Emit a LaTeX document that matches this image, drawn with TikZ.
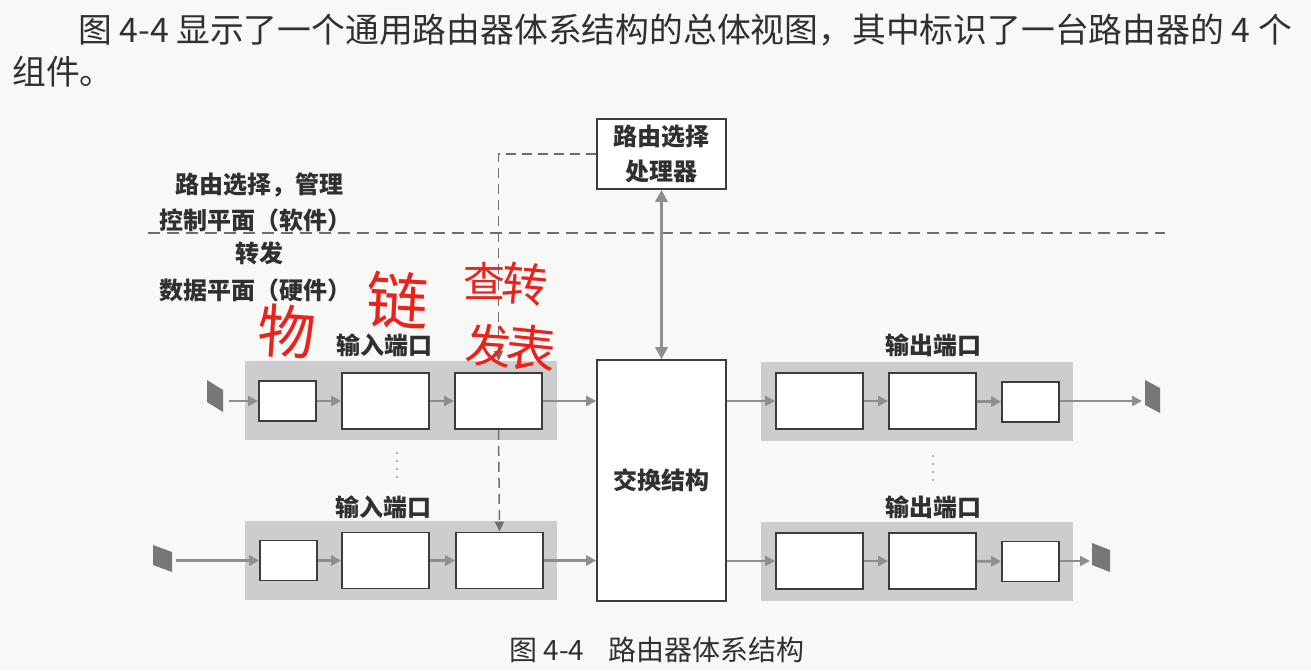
\documentclass[tikz,border=0pt]{standalone}
\usepackage{fontspec}
\setmainfont{Noto Sans CJK SC}
\usetikzlibrary{arrows.meta}
\definecolor{pagebg}{HTML}{F8F8F6}
\definecolor{ink}{HTML}{303030}
\definecolor{boxline}{HTML}{3C3C3C}
\definecolor{portgray}{HTML}{CDCDCD}
\definecolor{arrowgray}{HTML}{8E8E8E}
\definecolor{dashgray}{HTML}{6E6E6E}
\definecolor{plategray}{HTML}{777777}
\definecolor{handred}{HTML}{E8231C}
\begin{document}
\begin{tikzpicture}[x=1pt,y=-1pt,
  port/.style={fill=portgray,draw=none,inner sep=0pt,minimum width=312pt,minimum height=79pt},
  stagebig/.style={draw=boxline,fill=white,line width=1.8pt,inner sep=0pt,minimum width=87pt,minimum height=56pt},
  stagesmall/.style={draw=boxline,fill=white,line width=1.8pt,inner sep=0pt,minimum width=57pt,minimum height=40pt},
  bigbox/.style={draw=boxline,fill=white,line width=1.6pt,inner sep=0pt,minimum width=129pt,align=center,text=ink,font=\bfseries\fontsize{24}{35}\selectfont},
  flow/.style={draw=arrowgray,line width=2.8pt,-{Triangle[length=10pt,width=10pt]}},
  twoway/.style={draw=arrowgray,line width=3.4pt,{Triangle[length=12pt,width=12pt]}-{Triangle[length=12pt,width=12pt]}},
  ctrl/.style={draw=dashgray,line width=1.5pt,dash pattern=on 10pt off 6pt,-{Triangle[length=10pt,width=9pt]}},
  planeline/.style={draw=dashgray,line width=1.5pt,dash pattern=on 12pt off 7pt},
  lbl/.style={text=ink,inner sep=0pt,font=\bfseries\fontsize{24}{28}\selectfont},
  bodytext/.style={text=ink,inner sep=0pt,anchor=west,font=\fontsize{33.8}{40}\selectfont},
  captiontext/.style={text=ink,inner sep=0pt,anchor=west,font=\fontsize{28}{32}\selectfont},
  hand/.style={text=handred,inner sep=0pt,font=\fontsize{48}{50}\selectfont},
  plate/.style={fill=plategray,draw=none},
  dots/.style={draw=arrowgray!70,line width=1.6pt,dash pattern=on 2pt off 6pt}
]
\useasboundingbox (0,0) rectangle (1311,670);
\fill[pagebg] (0,0) rectangle (1311,670);

% running text
\node[bodytext] (t1) at (78,30) {图 4-4 显示了一个通用路由器体系结构的总体视图，其中标识了一台路由器的 4 个};
\node[bodytext] (t2) at (12,72) {组件。};
\node[captiontext] (cap) at (509,650) {图 4-4\hspace{24pt}路由器体系结构};

% control / data plane
\coordinate (pl) at (148,233);
\coordinate (pr) at (1165,233);
\draw[planeline] (pl) -- (pr);
\node[lbl] (c1) at (259,185) {路由选择，管理};
\node[lbl] (c2) at (255,220) {控制平面（软件）};
\node[lbl] (d1) at (259,253) {转发};
\node[lbl] (d2) at (255,290) {数据平面（硬件）};

% routing processor and switch fabric
\node[bigbox,minimum height=70pt] (rp) at (661.5,154) {路由选择\\处理器};
\node[bigbox,minimum height=241pt] (sw) at (661.5,480.5) {\raisebox{-10pt}{交换结构}};

% dashed control path (under first input port)
\draw[ctrl] (rp.west) -| (498.5,361);

% ports
\node[port] (in1) at (401,400.5) {};
\node[port] (in2) at (401,560.5) {};
\node[port] (out1) at (917,401.5) {};
\node[port] (out2) at (917,561.5) {};

\node[lbl] (in1l) at (384,345) {输入端口};
\node[lbl] (in2l) at (383,507) {输入端口};
\node[lbl] (out1l) at (933,345) {输出端口};
\node[lbl] (out2l) at (933,507) {输出端口};

% stages
\node[stagesmall] (in1a) at (287.5,401) {};
\node[stagebig]   (in1b) at (385.5,401) {};
\node[stagebig]   (in1c) at (498.5,401) {};
\node[stagesmall] (in2a) at (288.5,560.5) {};
\node[stagebig]   (in2b) at (385.5,560.5) {};
\node[stagebig]   (in2c) at (499.5,560.5) {};
\node[stagebig]   (out1a) at (819.5,401) {};
\node[stagebig]   (out1b) at (932.5,401) {};
\node[stagesmall] (out1c) at (1030.5,402) {};
\node[stagebig]   (out2a) at (819.5,561) {};
\node[stagebig]   (out2b) at (932.5,561) {};
\node[stagesmall] (out2c) at (1030.5,561.5) {};

\draw[ctrl] (in1c.south) -- (in2c.north);

% line terminations (plates)
\fill[plate] (207,380) -- (223,390) -- (223,412) -- (207,402) -- cycle;
\coordinate (pin1) at (229,401);
\fill[plate] (153,545) -- (172,552) -- (172,572) -- (153,565) -- cycle;
\coordinate (pin2) at (176,560.5);
\fill[plate] (1145,380) -- (1160,388) -- (1160,413) -- (1145,405) -- cycle;
\coordinate (pout1) at (1142,401);
\fill[plate] (1092,543) -- (1110,550) -- (1110,572) -- (1092,565) -- cycle;
\coordinate (pout2) at (1090,561);

% data flow
\draw[flow] (pin1) -- (in1a.west);
\draw[flow] (in1a) -- (in1b);
\draw[flow] (in1b) -- (in1c);
\draw[flow] (in1c.east) -- (in1c.east -| sw.west);
\draw[flow] (pin2) -- (in2a.west);
\draw[flow] (in2a) -- (in2b);
\draw[flow] (in2b) -- (in2c);
\draw[flow] (in2c.east) -- (in2c.east -| sw.west);
\draw[flow] (sw.east |- out1a.west) -- (out1a.west);
\draw[flow] (out1a) -- (out1b);
\draw[flow] (out1b) -- (out1c);
\draw[flow] (out1c.east |- pout1) -- (pout1);
\draw[flow] (sw.east |- out2a.west) -- (out2a.west);
\draw[flow] (out2a) -- (out2b);
\draw[flow] (out2b) -- (out2c);
\draw[flow] (out2c.east |- pout2) -- (pout2);
\draw[twoway] (rp.south) -- (sw.north);

% ellipsis dots between ports
\draw[dots] (397,452) -- (397,484);
\draw[dots] (933,455) -- (933,486);

% handwritten notes
\node[hand,font=\fontsize{58}{60}\selectfont,rotate=-4] (h1) at (287,332) {物};
\node[hand,font=\fontsize{62}{64}\selectfont,rotate=-3] (h2) at (398,300) {链};
\node[hand,font=\fontsize{42}{44}\selectfont] (h3) at (484,281) {查};
\node[hand,font=\fontsize{46}{48}\selectfont,rotate=-5] (h4) at (525,284) {转};
\node[hand,font=\fontsize{46}{48}\selectfont,rotate=-4] (h5) at (489,346) {发};
\node[hand,font=\fontsize{50}{52}\selectfont,rotate=-6] (h6) at (531,348) {表};
\end{tikzpicture}
\end{document}
